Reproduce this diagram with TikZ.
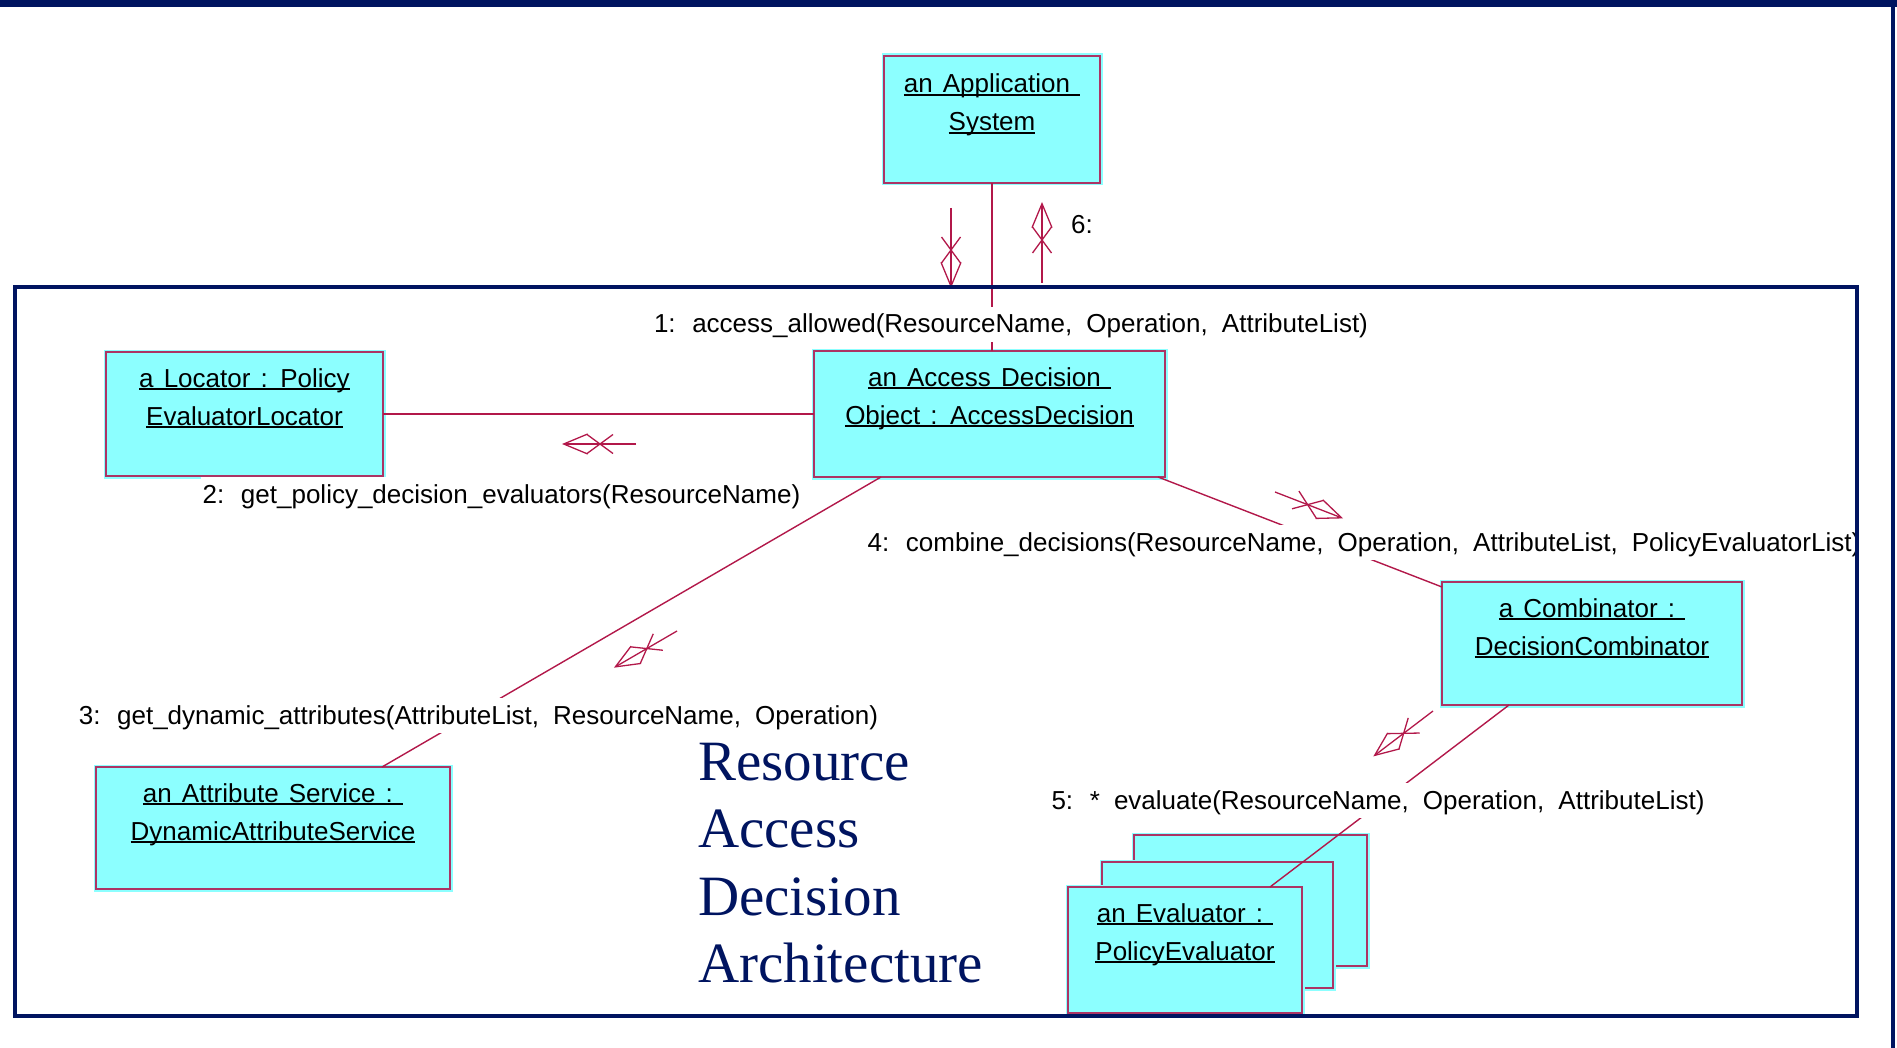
\documentclass[tikz,border=0pt]{standalone}
\usepackage{fontspec}
\setmainfont{Liberation Sans}
\newfontfamily\msgfont[WordSpace=1.8]{Liberation Sans}
\newfontfamily\objfont[WordSpace=1.4]{Liberation Sans}
\newfontfamily\headfont{Liberation Serif}
\usetikzlibrary{arrows.meta,decorations.markings}

\definecolor{navy}{RGB}{0,20,96}
\definecolor{objfill}{RGB}{140,255,255}
\definecolor{objedge}{RGB}{172,52,100}
\definecolor{linkcol}{RGB}{178,24,74}

% underline sitting just under the baseline, as long as the text
\newcommand\ulbox[1]{\setbox0\hbox{#1}\rlap{\rule[-2.6pt]{\wd0}{1.6pt}}\box0}

\tikzset{
  obj/.style={rectangle, fill=objfill, draw=objfill, line width=5pt,
    inner sep=0pt, outer sep=0pt, postaction={draw=objedge, line width=1.6pt}},
  objtext/.style={anchor=base, inner sep=0pt, font=\objfont\fontsize{26pt}{38pt}\selectfont},
  link/.style={draw=linkcol, line width=1.4pt},
  msglabel/.style={fill=white, anchor=base, inner xsep=2pt, inner ysep=3pt,
    text height=23pt, text depth=6pt, font=\msgfont\fontsize{26pt}{38pt}\selectfont},
  msgarrow/.style={draw=linkcol, line width=1.3pt,
    -{Straight Barb[length=24pt,width=20pt]},
    postaction={decorate},
    decoration={markings, mark=at position -38pt with
      {\draw[-, draw=linkcol, line width=1.3pt] (-13pt,-9.5pt) -- (13pt,9.5pt) (-13pt,9.5pt) -- (13pt,-9.5pt);}}},
  headline/.style={anchor=base west, inner sep=0pt, text=navy,
    font=\headfont\fontsize{57pt}{68pt}\selectfont},
}

\begin{document}
\begin{tikzpicture}[x=1pt, y=-1pt]
\useasboundingbox (0,0) rectangle (1897,1048);

% slide band and right rule
\fill[navy] (0,0) rectangle (1897,7);
\fill[navy] (1891,0) rectangle (1895,1048);

% objects
\node[obj, minimum width=216pt, minimum height=127pt] (app)  at (992,119.5) {};
\node[obj, minimum width=277pt, minimum height=124pt] (loc)  at (244.5,414) {};
\node[obj, minimum width=351pt, minimum height=126pt] (ad)   at (989.5,414) {};
\node[obj, minimum width=300pt, minimum height=123pt] (comb) at (1592,643.5) {};
\node[obj, minimum width=354pt, minimum height=122pt] (attr) at (273,828) {};
\node[obj, minimum width=233pt, minimum height=131pt] (eva)  at (1250.5,900.5) {};
\node[obj, minimum width=231pt, minimum height=126pt] (evb)  at (1217.5,925) {};
\node[obj, minimum width=234pt, minimum height=126pt] (evc)  at (1185,950) {};

% object names
\node[objtext] (app-1)  at ([yshift=-37pt]app.north)  {\ulbox{an Application\ }};
\node[objtext] (app-2)  at ([yshift=-75pt]app.north)  {\ulbox{System}};
\node[objtext] (loc-1)  at ([yshift=-35pt]loc.north)  {\ulbox{a Locator : Policy}};
\node[objtext] (loc-2)  at ([yshift=-73pt]loc.north)  {\ulbox{EvaluatorLocator}};
\node[objtext] (ad-1)   at ([yshift=-35pt]ad.north)   {\ulbox{an Access Decision\ }};
\node[objtext] (ad-2)   at ([yshift=-73pt]ad.north)   {\ulbox{Object : AccessDecision}};
\node[objtext] (comb-1) at ([yshift=-35pt]comb.north) {\ulbox{a Combinator :\ }};
\node[objtext] (comb-2) at ([yshift=-73pt]comb.north) {\ulbox{DecisionCombinator}};
\node[objtext] (attr-1) at ([yshift=-35pt]attr.north) {\ulbox{an Attribute Service :\ }};
\node[objtext] (attr-2) at ([yshift=-73pt]attr.north) {\ulbox{DynamicAttributeService}};
\node[objtext] (evc-1)  at ([yshift=-35pt]evc.north)  {\ulbox{an Evaluator :\ }};
\node[objtext] (evc-2)  at ([yshift=-73pt]evc.north)  {\ulbox{PolicyEvaluator}};

% links
\draw[link] (app.south) -- (app.south |- ad.north);
\draw[link] (loc.east) -- (loc.east -| ad.west);
\draw[link] ([xshift=67pt]ad.south west) -- ([xshift=286pt]attr.north west);
\draw[link] ([xshift=-7pt]ad.south east) -- ([yshift=-5pt]comb.north west);
\draw[link] ([xshift=67pt]comb.south west) -- ([xshift=-32pt]evc.north east);

% messages
\node[msglabel] (m1) at (1011,333) {1: access\_allowed(ResourceName, Operation, AttributeList)};
\node[msglabel] (m2) at (501.5,503) {2: get\_policy\_decision\_evaluators(ResourceName)};
\node[msglabel] (m3) at (478.5,724) {3: get\_dynamic\_attributes(AttributeList, ResourceName, Operation)};
\node[msglabel] (m4) at (1364,551) {4: combine\_decisions(ResourceName, Operation, AttributeList, PolicyEvaluatorList)};
\node[msglabel] (m5) at (1378,809) {5: * evaluate(ResourceName, Operation, AttributeList)};
\node[msglabel, fill=none, anchor=base west] (m6) at (1069,234) {6:};

% message direction arrows
\coordinate (a1s) at (951,208);    \coordinate (a1e) at (951,288);
\coordinate (a6s) at (1042,283);   \coordinate (a6e) at (1042,202);
\coordinate (a2s) at (636,444);    \coordinate (a2e) at (562,444);
\coordinate (a3s) at (677,631);    \coordinate (a3e) at (613.9,667.7);
\coordinate (a4s) at (1275,492);   \coordinate (a4e) at (1343.1,518.4);
\coordinate (a5s) at (1433,711);   \coordinate (a5e) at (1373.3,756.4);
\draw[msgarrow] (a1s) -- (a1e);
\draw[msgarrow] (a6s) -- (a6e);
\draw[msgarrow] (a2s) -- (a2e);
\draw[msgarrow] (a3s) -- (a3e);
\draw[msgarrow] (a4s) -- (a4e);
\draw[msgarrow] (a5s) -- (a5e);

% title
\node[headline] (h1) at (698,780) {Resource};
\node[headline] (h2) at (698,847) {Access};
\node[headline] (h3) at (698,915) {Decision};
\node[headline] (h4) at (698,982) {Architecture};

% package frame
\draw[navy, line width=4pt] (15,287) rectangle (1857,1016);
\end{tikzpicture}
\end{document}
